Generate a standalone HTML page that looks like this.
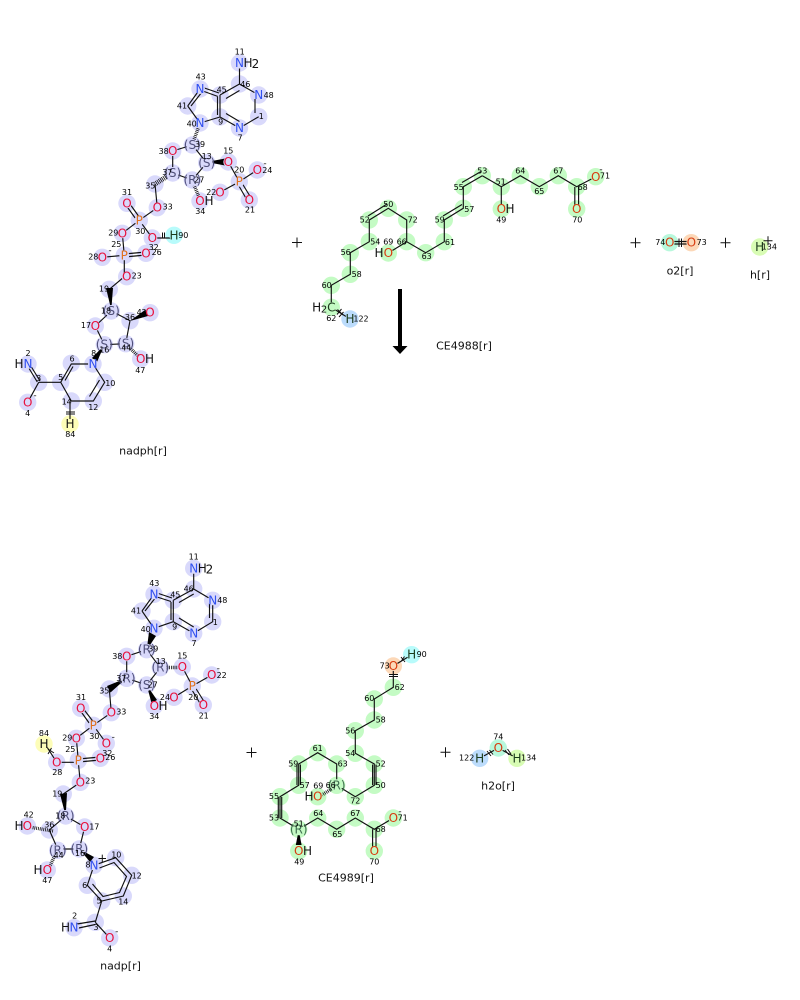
<!DOCTYPE html>
<html><head><meta charset="utf-8"><style>
html,body{margin:0;padding:0;background:#fff}
svg{display:block;font-family:"DejaVu Sans","Liberation Sans",sans-serif}
.b path,.b{fill:none;stroke:#111;stroke-width:1.15}
.n text{font-size:8px;fill:#000;text-anchor:middle;dominant-baseline:central}
.a text{font-size:12px;text-anchor:middle;dominant-baseline:central}
.N{fill:#3050f0}.O{fill:#e8103c}.P{fill:#e0701c}.K{fill:#111}.Q{fill:#d83c10}.G{fill:#1a3a1a}
.S{fill:#50507a;font-size:11.5px}.T{fill:#407050;font-size:11.5px}
.l{font-size:11px;fill:#111;text-anchor:middle;dominant-baseline:central}
.p{stroke:#111;stroke-width:1;fill:none}
.hs{stroke:#111;stroke-width:3.4;stroke-dasharray:.8 1;fill:none}
.hw{stroke:#111;stroke-width:5;stroke-dasharray:.8 1;fill:none}
</style></head><body>
<svg width="800" height="1000" viewBox="0 0 800 1000" xmlns="http://www.w3.org/2000/svg">

<!-- NADPH highlights -->
<g fill="#d9d9fb"><circle cx="239.5" cy="63" r="8.7"/><circle cx="239.5" cy="84" r="8.7"/><circle cx="258.7" cy="95" r="8.7"/><circle cx="258.7" cy="116.7" r="8.7"/><circle cx="239.5" cy="128" r="8.7"/><circle cx="220" cy="117" r="8.7"/><circle cx="220" cy="95" r="8.7"/><circle cx="200" cy="89" r="8.7"/><circle cx="187.7" cy="106" r="8.7"/><circle cx="200" cy="123" r="8.7"/><circle cx="192.3" cy="145" r="8.7"/><circle cx="172.7" cy="151" r="8.7"/><circle cx="172.7" cy="173" r="8.7"/><circle cx="192.3" cy="180" r="8.7"/><circle cx="206.7" cy="162.7" r="8.7"/><circle cx="228.3" cy="162" r="8.7"/><circle cx="239.3" cy="181.7" r="8.7"/><circle cx="257.3" cy="170" r="8.7"/><circle cx="249.3" cy="200" r="8.7"/><circle cx="220" cy="192.3" r="8.7"/><circle cx="200" cy="201" r="8.7"/><circle cx="155" cy="184" r="8.7"/><circle cx="157.3" cy="207.7" r="8.7"/><circle cx="139.3" cy="220.3" r="8.7"/><circle cx="127" cy="203.3" r="8.7"/><circle cx="122.3" cy="233.3" r="8.7"/><circle cx="152.3" cy="238" r="8.7"/><circle cx="124.3" cy="255.3" r="8.7"/><circle cx="146" cy="253.3" r="8.7"/><circle cx="102.3" cy="257.3" r="8.7"/><circle cx="126.7" cy="276.7" r="8.7"/><circle cx="109.3" cy="289.3" r="8.7"/><circle cx="111.3" cy="311" r="8.7"/><circle cx="130" cy="320.7" r="8.7"/><circle cx="150" cy="312.7" r="8.7"/><circle cx="95.3" cy="326" r="8.7"/><circle cx="104.3" cy="344.7" r="8.7"/><circle cx="125.7" cy="343.7" r="8.7"/><circle cx="140.7" cy="359" r="8.7"/><circle cx="93" cy="364" r="8.7"/><circle cx="71.3" cy="363.3" r="8.7"/><circle cx="60.7" cy="382.3" r="8.7"/><circle cx="38.7" cy="382.3" r="8.7"/><circle cx="28" cy="364" r="8.7"/><circle cx="27.7" cy="402.3" r="8.7"/><circle cx="71.3" cy="401" r="8.7"/><circle cx="93.3" cy="401" r="8.7"/><circle cx="104.7" cy="382.3" r="8.7"/></g>
<circle cx="174" cy="235.3" r="8.7" fill="#b8fbfb"/><circle cx="70" cy="424" r="8.7" fill="#fdfdb8"/>

<!-- NADPH bonds -->
<path class="b" d="M239.5 68V84L258.7 95M258.7 116.7L239.5 128M239.5 84L220 95M220 95V117M220 117L239.5 128M226 98.5L239.5 90.5M255 99V113M226 113.5L239.5 121.5M217.5 97V115M200 86.5L219 93M200 90L218 96.5M187.7 106L200 89M191 106L202 92M187.7 106L200 123M200 123L220 117M192.3 145L172.7 151V173L192.3 180L206.7 162.7L192.3 145M228.3 162L239.3 181.7L257.3 170M237.5 183.5L247 200M241 181.5L250.5 197M239.3 181.7L220 192.3M157.3 207.7L155 184M157.3 207.7L139.3 220.3L122.3 233.3L124.3 255.3M138 222L125.5 204.5M141 219.5L128.5 202M139.3 220.3L152.3 238M152.3 238H174M124.3 254L146 252M124.3 257L146 255M102.3 257.3L124.3 255.3V276.7L109.3 289.3M111.3 311L130 320.7L125.7 343.7L104.3 344.7L95.3 326L111.3 311M93 364H71.3L60.7 382.3L71.3 401H93.3L104.7 382.3L93 364M60.7 382.3H38.7M65 380.5L73 366.5M37.3 382L26.7 364.5M40 381L29.3 363.5M38.7 382.3L27.7 402.3M89.5 396.5L99.5 380M70 401V424"/>
<path class="hs" d="M193.5 141L199 126M192.5 181.5L199 197M125.7 343.7L139 357"/>
<path class="hw" d="M166 177L155 184"/>
<polygon points="206.7,162 225,158.5 225,165.5" fill="#000"/>
<polygon points="111.3,310 106,288 113,288" fill="#000"/>
<polygon points="130,321 145,310 148,316" fill="#000"/>
<polygon points="104.3,345 92,358 97,362" fill="#000"/>
<path class="p" d="M162.5 232.5V238.5M164.5 232.5V238.5M66 412H75M66 414H75"/>

<g fill="#d9d9fb"><circle cx="239.5" cy="63" r="5.5"/><circle cx="258.7" cy="95" r="5"/><circle cx="239.5" cy="128" r="5"/><circle cx="200" cy="89" r="5"/><circle cx="200" cy="123" r="5"/><circle cx="172.7" cy="151" r="5"/><circle cx="228.3" cy="162" r="5"/><circle cx="239.3" cy="181.7" r="5"/><circle cx="257.3" cy="170" r="5"/><circle cx="249.3" cy="200" r="5"/><circle cx="220" cy="192.3" r="5"/><circle cx="200" cy="201" r="5"/><circle cx="157.3" cy="207.7" r="5"/><circle cx="139.3" cy="220.3" r="5"/><circle cx="127" cy="203.3" r="5"/><circle cx="122.3" cy="233.3" r="5"/><circle cx="152.3" cy="238" r="5"/><circle cx="124.3" cy="255.3" r="5"/><circle cx="146" cy="253.3" r="5"/><circle cx="102.3" cy="257.3" r="5"/><circle cx="126.7" cy="276.7" r="5"/><circle cx="95.3" cy="326" r="5"/><circle cx="140.7" cy="359" r="5"/><circle cx="93" cy="364" r="5"/><circle cx="28" cy="364" r="5"/><circle cx="27.7" cy="402.3" r="5"/>
<circle cx="192.3" cy="145" r="6"/><circle cx="172.7" cy="173" r="6"/><circle cx="192.3" cy="180" r="6"/><circle cx="206.7" cy="162.7" r="6"/><circle cx="111.3" cy="311" r="6"/><circle cx="104.3" cy="344.7" r="6"/><circle cx="125.7" cy="343.7" r="6"/></g>
<circle cx="174" cy="235.3" r="5" fill="#b8fbfb"/><circle cx="70" cy="424" r="5" fill="#fdfdb8"/>

<g class="a">
<text x="239.5" y="63" class="N">N</text><text x="248" y="63" class="K">H</text><text x="255.5" y="64" class="K">2</text>
<text x="258.7" y="95" class="N">N</text><text x="239.5" y="128" class="N">N</text><text x="200" y="89" class="N">N</text><text x="200" y="123" class="N">N</text>
<text x="192.3" y="145" class="S">(S)</text><text x="172.7" y="173" class="S">(S)</text><text x="192.3" y="180" class="S">(R)</text><text x="206.7" y="163" class="S">(S)</text>
<text x="172.7" y="151" class="O">O</text><text x="228.3" y="162" class="O">O</text><text x="239.3" y="181.7" class="P">P</text><text x="257.3" y="170" class="O">O</text><text x="249.3" y="200" class="O">O</text><text x="220" y="192.3" class="O">O</text>
<text x="200" y="201" class="O">O</text><text x="209" y="201" class="K">H</text>
<text x="157.3" y="207.7" class="O">O</text><text x="139.3" y="220.3" class="P">P</text><text x="127" y="203.3" class="O">O</text><text x="122.3" y="233.3" class="O">O</text><text x="152.3" y="238" class="O">O</text><text x="174" y="235.3" class="G">H</text>
<text x="124.3" y="255.3" class="P">P</text><text x="146" y="253.3" class="O">O</text><text x="102.3" y="257.3" class="O">O</text><text x="126.7" y="276.7" class="O">O</text>
<text x="111.3" y="311" class="S">(S)</text><text x="150" y="312.7" class="O">O</text><text x="95.3" y="326" class="O">O</text><text x="104.3" y="344.7" class="S">(S)</text><text x="125.7" y="343.7" class="S">(S)</text>
<text x="140.7" y="359" class="O">O</text><text x="149.5" y="359" class="K">H</text>
<text x="93" y="364" class="N">N</text><text x="28" y="364" class="N">N</text><text x="19" y="364" class="K">H</text><text x="27.7" y="402.3" class="O">O</text><text x="70" y="424" class="K">H</text>
<text x="265" y="164" class="K" style="font-size:9px">-</text><text x="110" y="251" class="K" style="font-size:9px">-</text><text x="35" y="396" class="K" style="font-size:9px">-</text>
</g>
<g class="n"><text x="239.7" y="52">11</text><text x="245.3" y="84.3">46</text><text x="268.7" y="95.3">48</text><text x="261.3" y="116.7">1</text><text x="240" y="138">7</text><text x="220.7" y="122">9</text><text x="221.7" y="90">45</text><text x="200.7" y="77">43</text><text x="182" y="106">41</text><text x="191.7" y="124">40</text><text x="200" y="144.3">39</text><text x="163.7" y="151.3">38</text><text x="167.3" y="172.7">37</text><text x="199.3" y="180">27</text><text x="206.7" y="156.7">13</text><text x="228.3" y="151">15</text><text x="239.3" y="170">20</text><text x="267.3" y="170.3">24</text><text x="250" y="210">21</text><text x="211.3" y="192.3">22</text><text x="200.3" y="211.3">34</text><text x="150.3" y="186">35</text><text x="167.7" y="207">33</text><text x="127" y="192.3">31</text><text x="140.3" y="231.3">30</text><text x="113.3" y="233">29</text><text x="153.7" y="247.3">32</text><text x="183.3" y="235.3">90</text><text x="116.3" y="244.3">25</text><text x="156.7" y="252.3">26</text><text x="93.3" y="257">28</text><text x="136.7" y="276">23</text><text x="104" y="289">19</text><text x="106" y="311">18</text><text x="141.7" y="312.7">42</text><text x="130" y="317.3">36</text><text x="86" y="325.3">17</text><text x="104.3" y="350">16</text><text x="126.3" y="348">44</text><text x="140.3" y="370.3">47</text><text x="93.7" y="353.7">8</text><text x="72" y="359">6</text><text x="60.7" y="377.7">5</text><text x="38.7" y="378.3">3</text><text x="28" y="353.3">2</text><text x="27.7" y="413.3">4</text><text x="66.7" y="402">14</text><text x="93.3" y="407.3">12</text><text x="110.3" y="383.3">10</text><text x="70.3" y="434.3">84</text></g>
<text x="143" y="451" class="l">nadph[r]</text>

<!-- CE4988 -->
<g fill="#c4fbc4"><circle cx="482.3" cy="175.7" r="8.7"/><circle cx="463.3" cy="186.7" r="8.7"/><circle cx="463.3" cy="208.3" r="8.7"/><circle cx="444.3" cy="220" r="8.7"/><circle cx="444.3" cy="241.7" r="8.7"/><circle cx="425.7" cy="252.7" r="8.7"/><circle cx="406.7" cy="241.7" r="8.7"/><circle cx="406.7" cy="220" r="8.7"/><circle cx="388.3" cy="208.3" r="8.7"/><circle cx="369.3" cy="220" r="8.7"/><circle cx="369.3" cy="241.7" r="8.7"/><circle cx="350.3" cy="252.7" r="8.7"/><circle cx="350.3" cy="274.3" r="8.7"/><circle cx="331.3" cy="285.3" r="8.7"/><circle cx="331.3" cy="307.3" r="8.7"/><circle cx="388.3" cy="253" r="8.7"/><circle cx="501.3" cy="186.7" r="8.7"/><circle cx="501.3" cy="209" r="8.7"/><circle cx="520.3" cy="175.7" r="8.7"/><circle cx="539.3" cy="186.7" r="8.7"/><circle cx="558.3" cy="175.7" r="8.7"/><circle cx="576.7" cy="186.7" r="8.7"/><circle cx="576.7" cy="209" r="8.7"/><circle cx="595.7" cy="176.7" r="8.7"/></g>
<circle cx="350" cy="319" r="8.7" fill="#bcdcfc"/>
<path class="b" d="M482.3 175.7L463.3 186.7V208.3L444.3 220V241.7L425.7 252.7L406.7 241.7V220L388.3 208.3L369.3 220V241.7L350.3 252.7V274.3L331.3 285.3V307.3L350 319M406.7 241.7L388.3 253M482.3 175.7L501.3 186.7L520.3 175.7L539.3 186.7L558.3 175.7L576.7 186.7L595.7 176.7M501.3 186.7V209M481 171.5L462 182.5M462 204.5L443 216M387 204L368 216M574.8 187V209M578.6 187V209"/>
<path class="p" d="M337.5 309.5L343 315M341.5 309L337 314.5M343.5 312L339 317"/>
<g fill="#c4fbc4"><circle cx="388.3" cy="253" r="5"/><circle cx="501.3" cy="209" r="5"/><circle cx="576.7" cy="209" r="5"/><circle cx="595.7" cy="176.7" r="5"/><circle cx="331.3" cy="307.3" r="5"/></g>
<circle cx="350" cy="319" r="5" fill="#bcdcfc"/>
<g class="a"><text x="388.3" y="253" class="Q">O</text><text x="379" y="253" class="K">H</text><text x="501.3" y="209" class="Q">O</text><text x="510" y="209" class="K">H</text><text x="576.7" y="209" class="Q">O</text><text x="595.7" y="177" class="Q">O</text>
<text x="331.3" y="307.3" class="G">C</text><text x="316.7" y="307.3" class="K">H</text><text x="324" y="310" class="K" style="font-size:10px">2</text><text x="350" y="319" class="G">H</text><text x="601" y="170" class="K" style="font-size:9px">-</text></g>
<g class="n"><text x="482.3" y="171">53</text><text x="520.3" y="171">64</text><text x="558.3" y="171">67</text><text x="605" y="176">71</text><text x="458.7" y="187.3">55</text><text x="500.7" y="182">51</text><text x="539.3" y="191.7">65</text><text x="582.7" y="187.3">68</text><text x="469.3" y="209.3">57</text><text x="439.7" y="220">59</text><text x="388.3" y="204.3">50</text><text x="364.7" y="220">52</text><text x="412.7" y="220">72</text><text x="501.3" y="220">49</text><text x="577.3" y="220">70</text><text x="375.3" y="242">54</text><text x="388.3" y="242">69</text><text x="401.7" y="242">66</text><text x="450" y="242.3">61</text><text x="426.7" y="256.3">63</text><text x="345.7" y="252.7">56</text><text x="356.7" y="274.3">58</text><text x="326.7" y="285.3">60</text><text x="331.3" y="318.3">62</text><text x="361" y="319">122</text></g>
<text x="464" y="346" class="l">CE4988[r]</text>

<!-- O2, H -->
<circle cx="669.7" cy="242.7" r="8.7" fill="#b8f8dc"/><circle cx="691.3" cy="242.7" r="8.7" fill="#fcd8b8"/><circle cx="759.7" cy="247" r="8.7" fill="#d8fcb4"/>
<path class="b" d="M669.7 241.5H691.3M669.7 244H691.3"/>
<path class="p" d="M679 238.5V247M681.5 238.5V247"/>
<circle cx="669.7" cy="242.7" r="5" fill="#b8f8dc"/><circle cx="691.3" cy="242.7" r="5" fill="#fcd8b8"/>
<g class="a"><text x="669.7" y="242.7" class="Q">O</text><text x="691.3" y="242.7" class="Q">O</text><text x="759.7" y="247" class="G">H</text></g>
<g class="n"><text x="660.3" y="242.7">74</text><text x="701.7" y="242.7">73</text><text x="769.3" y="247">134</text></g>
<text x="680" y="271" class="l">o2[r]</text><text x="760" y="275" class="l">h[r]</text>
<path class="p" d="M292 242.5H302M297 237.5V247.5M630.5 242.7H640.5M635.5 237.7V247.7M720.5 242.7H730.5M725.5 237.7V247.7M763.5 240.7H772.5M768 236.2V245.2M440.5 752.3H450.5M445.5 747.3V757.3M246.5 752.5H256.5M251.5 747.5V757.5"/>

<!-- Arrow -->
<rect x="398" y="289" width="4" height="58" fill="#000"/>
<polygon points="392.5,346 407.5,346 400,354" fill="#000"/>

<!-- NADP highlights -->
<g fill="#d9d9fb"><circle cx="193.7" cy="568.3" r="8.7"/><circle cx="193.7" cy="589" r="8.7"/><circle cx="212.7" cy="600.3" r="8.7"/><circle cx="212.7" cy="621.7" r="8.7"/><circle cx="193.7" cy="633.3" r="8.7"/><circle cx="173.3" cy="621.7" r="8.7"/><circle cx="173.3" cy="600.3" r="8.7"/><circle cx="154" cy="594.3" r="8.7"/><circle cx="142" cy="611" r="8.7"/><circle cx="154" cy="628.3" r="8.7"/><circle cx="146.7" cy="649.7" r="8.7"/><circle cx="126.7" cy="656.3" r="8.7"/><circle cx="126.7" cy="678.3" r="8.7"/><circle cx="146.7" cy="685" r="8.7"/><circle cx="160.3" cy="667.7" r="8.7"/><circle cx="182.3" cy="667" r="8.7"/><circle cx="192.3" cy="686" r="8.7"/><circle cx="211.7" cy="675" r="8.7"/><circle cx="203.3" cy="705" r="8.7"/><circle cx="174" cy="697.3" r="8.7"/><circle cx="154.3" cy="706" r="8.7"/><circle cx="109.3" cy="689" r="8.7"/><circle cx="111.3" cy="712.7" r="8.7"/><circle cx="93.3" cy="725.3" r="8.7"/><circle cx="80.7" cy="708.3" r="8.7"/><circle cx="76.3" cy="738.3" r="8.7"/><circle cx="106.3" cy="743.3" r="8.7"/><circle cx="78.3" cy="760.3" r="8.7"/><circle cx="100.3" cy="758.3" r="8.7"/><circle cx="56.7" cy="762.3" r="8.7"/><circle cx="80.3" cy="782.3" r="8.7"/><circle cx="63.3" cy="794" r="8.7"/><circle cx="65.7" cy="816" r="8.7"/><circle cx="84.7" cy="827" r="8.7"/><circle cx="49.3" cy="830" r="8.7"/><circle cx="27.3" cy="826" r="8.7"/><circle cx="57.7" cy="850.3" r="8.7"/><circle cx="79.3" cy="849" r="8.7"/><circle cx="47.3" cy="870" r="8.7"/><circle cx="94" cy="865.3" r="8.7"/><circle cx="115.7" cy="857.7" r="8.7"/><circle cx="131.7" cy="875.3" r="8.7"/><circle cx="123.3" cy="896" r="8.7"/><circle cx="101.7" cy="901" r="8.7"/><circle cx="87.3" cy="885.3" r="8.7"/><circle cx="95.3" cy="922.3" r="8.7"/><circle cx="74" cy="927.7" r="8.7"/><circle cx="109.7" cy="938" r="8.7"/></g>
<circle cx="44" cy="744" r="8.7" fill="#fdfdb8"/>

<!-- NADP bonds -->
<path class="b" d="M193.7 568.3V589L212.7 600.3M212.7 600.3V621.7L193.7 633.3M193.7 589L173.3 600.3M173.3 600.3V621.7L193.7 633.3M179 602.5L193.7 594M209.5 603V618M179 618L193.7 627M171 602V620M154 592L172 598M154 596L171 601.5M142 611L154 594.3M145 611L156 597M142 611L154 628.3M154 628.3L173.3 621.7M146.7 649.7L126.7 656.3V678.3L146.7 685L160.3 667.7L146.7 649.7M182.3 667L192.3 686L211.7 675M190.5 687.5L201 705M194 685.5L205 703M192.3 686L174 697.3M111.3 712.7L109.3 689M111.3 712.7L93.3 725.3L76.3 738.3L78.3 760.3M92 727L79.5 709.5M95 724L82 707M93.3 725.3L106.3 743.3M78.3 759L100.3 757M78.3 762L100.3 760M56.7 762.3H78.3L80.3 782.3L63.3 794M65.7 816L84.7 827L79.3 849H57.7L49.3 830L65.7 816M94 865.3L115.7 857.7L131.7 875.3L123.3 896L101.7 901L87.3 885.3L94 865.3M99.5 868L114 862.5L126.5 876.5L119.5 892.5L103 896.5L92.5 884M101.7 901L95.3 922.3M95.3 921L74 924.5M95.3 924.5L74 929M95.3 922.3L109.7 938M46 745.5L56.7 762.3"/>
<path class="hs" d="M162 667.5H179M53 831L29 827M56 853L49 868"/>
<polygon points="146.7,650 149,632 156,636" fill="#000"/>
<polygon points="146.7,685 151.5,703 157,700" fill="#000"/>
<polygon points="126.7,678 107,686 110.5,692.5" fill="#000"/>
<polygon points="65.7,816 60,794 67,793" fill="#000"/>
<polygon points="79.3,849 90,862 94,857" fill="#000"/>
<path class="p" d="M48 749L54 753M51.5 748L48 754"/>

<g fill="#d9d9fb"><circle cx="193.7" cy="568.3" r="5.5"/><circle cx="212.7" cy="600.3" r="5"/><circle cx="193.7" cy="633.3" r="5"/><circle cx="154" cy="594.3" r="5"/><circle cx="154" cy="628.3" r="5"/><circle cx="126.7" cy="656.3" r="5"/><circle cx="182.3" cy="667" r="5"/><circle cx="192.3" cy="686" r="5"/><circle cx="211.7" cy="675" r="5"/><circle cx="203.3" cy="705" r="5"/><circle cx="174" cy="697.3" r="5"/><circle cx="154.3" cy="706" r="5"/><circle cx="111.3" cy="712.7" r="5"/><circle cx="93.3" cy="725.3" r="5"/><circle cx="80.7" cy="708.3" r="5"/><circle cx="76.3" cy="738.3" r="5"/><circle cx="106.3" cy="743.3" r="5"/><circle cx="78.3" cy="760.3" r="5"/><circle cx="100.3" cy="758.3" r="5"/><circle cx="56.7" cy="762.3" r="5"/><circle cx="80.3" cy="782.3" r="5"/><circle cx="84.7" cy="827" r="5"/><circle cx="27.3" cy="826" r="5"/><circle cx="47.3" cy="870" r="5"/><circle cx="94" cy="865.3" r="5"/><circle cx="74" cy="927.7" r="5"/><circle cx="109.7" cy="938" r="5"/>
<circle cx="146.7" cy="649.7" r="6"/><circle cx="126.7" cy="678.3" r="6"/><circle cx="146.7" cy="685" r="6"/><circle cx="160.3" cy="667.7" r="6"/><circle cx="65.7" cy="816" r="6"/><circle cx="57.7" cy="850.3" r="6"/><circle cx="79.3" cy="849" r="6"/></g>
<circle cx="44" cy="744" r="5" fill="#fdfdb8"/>

<g class="a">
<text x="193.7" y="568.3" class="N">N</text><text x="202.3" y="568.3" class="K">H</text><text x="209.5" y="569.5" class="K">2</text>
<text x="212.7" y="600.3" class="N">N</text><text x="193.7" y="633.3" class="N">N</text><text x="154" y="594.3" class="N">N</text><text x="154" y="628.3" class="N">N</text>
<text x="146.7" y="649.7" class="S">(R)</text><text x="126.7" y="678.3" class="S">(R)</text><text x="146.7" y="685" class="S">(S)</text><text x="160.3" y="667.7" class="S">(R)</text>
<text x="126.7" y="656.3" class="O">O</text><text x="182.3" y="667" class="O">O</text><text x="192.3" y="686" class="P">P</text><text x="211.7" y="675" class="O">O</text><text x="203.3" y="705" class="O">O</text><text x="174" y="697.3" class="O">O</text>
<text x="154.3" y="706" class="O">O</text><text x="163" y="706" class="K">H</text>
<text x="111.3" y="712.7" class="O">O</text><text x="93.3" y="725.3" class="P">P</text><text x="80.7" y="708.3" class="O">O</text><text x="76.3" y="738.3" class="O">O</text><text x="106.3" y="743.3" class="O">O</text>
<text x="78.3" y="760.3" class="P">P</text><text x="100.3" y="758.3" class="O">O</text><text x="56.7" y="762.3" class="O">O</text><text x="44" y="744" class="K">H</text><text x="80.3" y="782.3" class="O">O</text>
<text x="65.7" y="816" class="S">(R)</text><text x="84.7" y="827" class="O">O</text><text x="27.3" y="826" class="O">O</text><text x="19" y="826" class="K">H</text><text x="57.7" y="850.3" class="S">(R)</text><text x="79.3" y="849" class="S">(R)</text>
<text x="47.3" y="870" class="O">O</text><text x="38" y="870" class="K">H</text><text x="94" y="865.3" class="N">N</text><text x="102.3" y="858.5" class="K">+</text>
<text x="74" y="927.7" class="N">N</text><text x="65.5" y="927.7" class="K">H</text><text x="109.7" y="938" class="O">O</text>
<text x="116.7" y="932" class="K" style="font-size:9px">-</text><text x="113.3" y="737.3" class="K" style="font-size:9px">-</text><text x="218.3" y="669" class="K" style="font-size:9px">-</text>
</g>
<g class="n"><text x="193.7" y="557">11</text><text x="188.7" y="589">46</text><text x="222.3" y="600.3">48</text><text x="215.3" y="622.3">1</text><text x="194" y="643.7">7</text><text x="174.7" y="627">9</text><text x="175.3" y="595">45</text><text x="154.3" y="583.3">43</text><text x="136" y="611">41</text><text x="145.7" y="629.3">40</text><text x="153.3" y="649">39</text><text x="117.3" y="656.3">38</text><text x="121.3" y="678.3">37</text><text x="152.7" y="685">27</text><text x="160.7" y="661.7">13</text><text x="182.3" y="656">15</text><text x="193.3" y="697.3">20</text><text x="221.7" y="675.3">22</text><text x="203.7" y="716">21</text><text x="165" y="697.3">24</text><text x="154.3" y="716.3">34</text><text x="104.3" y="691">35</text><text x="121.3" y="712">33</text><text x="81" y="697.3">31</text><text x="94.3" y="736.3">30</text><text x="67.3" y="738">29</text><text x="107.3" y="753.3">32</text><text x="110.3" y="757.3">26</text><text x="70.3" y="749.3">25</text><text x="44" y="733.3">84</text><text x="57.3" y="772.7">28</text><text x="90.3" y="781">23</text><text x="57.3" y="794">19</text><text x="60.3" y="816">18</text><text x="28.7" y="815">42</text><text x="49.3" y="825">36</text><text x="94.3" y="827">17</text><text x="58.7" y="855.3">44</text><text x="80" y="853.3">16</text><text x="47.3" y="880.3">47</text><text x="88" y="865">8</text><text x="116.3" y="855">10</text><text x="136.7" y="876">12</text><text x="123.3" y="902">14</text><text x="99" y="901">5</text><text x="84.7" y="885.3">6</text><text x="74.7" y="916">2</text><text x="96" y="927.3">3</text><text x="109.7" y="949">4</text></g>
<text x="120.5" y="966" class="l">nadp[r]</text>

<!-- CE4989 -->
<g fill="#c4fbc4"><circle cx="393.3" cy="687.3" r="8.7"/><circle cx="374.3" cy="699" r="8.7"/><circle cx="374.3" cy="720" r="8.7"/><circle cx="355.3" cy="730.7" r="8.7"/><circle cx="355.3" cy="753.3" r="8.7"/><circle cx="374.3" cy="764" r="8.7"/><circle cx="374.3" cy="785.3" r="8.7"/><circle cx="355.3" cy="796.7" r="8.7"/><circle cx="336.7" cy="785.3" r="8.7"/><circle cx="336.7" cy="764" r="8.7"/><circle cx="317.7" cy="752.7" r="8.7"/><circle cx="298.7" cy="764" r="8.7"/><circle cx="298.7" cy="785.3" r="8.7"/><circle cx="280" cy="796.7" r="8.7"/><circle cx="280" cy="818" r="8.7"/><circle cx="298.7" cy="829.3" r="8.7"/><circle cx="298.7" cy="851" r="8.7"/><circle cx="317.7" cy="818" r="8.7"/><circle cx="336.7" cy="829.3" r="8.7"/><circle cx="355.3" cy="818" r="8.7"/><circle cx="374.3" cy="829.3" r="8.7"/><circle cx="374.3" cy="851" r="8.7"/><circle cx="393.3" cy="818" r="8.7"/><circle cx="317.7" cy="796.7" r="8.7"/></g>
<circle cx="393.3" cy="666" r="8.7" fill="#fcd8b8"/><circle cx="411.7" cy="654.7" r="8.7" fill="#b8fbfb"/>
<path class="b" d="M411.7 654.7L393.3 666V687.3L374.3 699V720L355.3 730.7V753.3L374.3 764V785.3L355.3 796.7L336.7 785.3V764L317.7 752.7L298.7 764V785.3L280 796.7V818L298.7 829.3L317.7 818L336.7 829.3L355.3 818L374.3 829.3L393.3 818M372.6 764.5V785M376 764.5V785M297 764.5V785M300.4 764.5V785M278.3 797V818M281.7 797V818M372.6 829.3V851M376 829.3V851"/>
<polygon points="298.7,830 295.8,845 301.6,845" fill="#000"/>
<path class="hs" d="M336 786L322 795"/>
<path class="p" d="M389 674.5H398M389 676.5H398M401 657L405 662M404.5 656.5L401 661.5"/>
<g fill="#c4fbc4"><circle cx="298.7" cy="851" r="5"/><circle cx="374.3" cy="851" r="5"/><circle cx="393.3" cy="818" r="5"/><circle cx="317.7" cy="796.7" r="5"/><circle cx="336.7" cy="785.3" r="6"/><circle cx="298.7" cy="829.3" r="6"/></g>
<circle cx="393.3" cy="666" r="5" fill="#fcd8b8"/><circle cx="411.7" cy="654.7" r="5" fill="#b8fbfb"/>
<g class="a"><text x="393.3" y="666" class="Q">O</text><text x="411.7" y="654.7" class="G">H</text><text x="336.7" y="785.3" class="T">(R)</text><text x="298.7" y="829.3" class="T">(R)</text>
<text x="317.7" y="796.7" class="Q">O</text><text x="309" y="796.7" class="K">H</text><text x="298.7" y="851" class="Q">O</text><text x="307.5" y="851" class="K">H</text><text x="374.3" y="851" class="Q">O</text><text x="393.3" y="818" class="Q">O</text><text x="400" y="812" class="K" style="font-size:9px">-</text></g>
<g class="n"><text x="421.7" y="654.7">90</text><text x="384.7" y="666">73</text><text x="399.7" y="687.3">62</text><text x="369.3" y="698.3">60</text><text x="380.7" y="720">58</text><text x="350.3" y="731">56</text><text x="350.3" y="753.3">54</text><text x="317.7" y="748.3">61</text><text x="293.3" y="764">59</text><text x="342.7" y="764">63</text><text x="380.7" y="764">52</text><text x="304.7" y="785.3">57</text><text x="318.3" y="786">69</text><text x="330.7" y="785.3">66</text><text x="380.7" y="785.3">50</text><text x="274" y="796.7">55</text><text x="355.3" y="801">72</text><text x="274" y="818">53</text><text x="318.3" y="813.3">64</text><text x="355.3" y="813.3">67</text><text x="298.7" y="824">51</text><text x="337.3" y="834.3">65</text><text x="380.7" y="829.3">68</text><text x="402.7" y="818">71</text><text x="299.3" y="862">49</text><text x="374.3" y="862">70</text></g>
<text x="346" y="878" class="l">CE4989[r]</text>

<!-- H2O -->
<circle cx="479.7" cy="758.3" r="8.7" fill="#bcdcfc"/><circle cx="498.3" cy="748" r="8.7" fill="#b8f8dc"/><circle cx="517" cy="758.3" r="8.7" fill="#d8fcb4"/>
<path class="b" d="M479.7 758.3L498.3 748L517 758.3"/>
<path class="p" d="M487 751L491 756M489.5 750L493 754.5M505 750L509 755M507.5 749L511 754"/>
<circle cx="479.7" cy="758.3" r="5" fill="#bcdcfc"/><circle cx="498.3" cy="748" r="5" fill="#b8f8dc"/><circle cx="517" cy="758.3" r="5" fill="#d8fcb4"/>
<g class="a"><text x="479.7" y="758.3" class="G">H</text><text x="498.3" y="748" class="Q">O</text><text x="517" y="758.3" class="G">H</text></g>
<g class="n"><text x="498.3" y="737">74</text><text x="466.7" y="758">122</text><text x="528.7" y="758">134</text></g>
<text x="498" y="786" class="l">h2o[r]</text>
</svg>
</body></html>
